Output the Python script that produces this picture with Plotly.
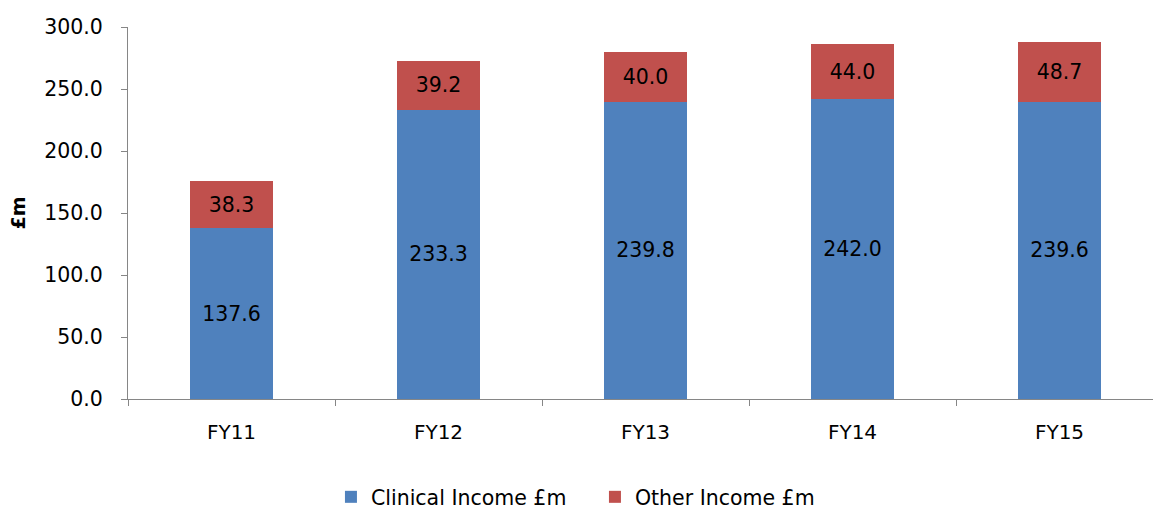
import plotly.graph_objects as go

categories = ["FY11", "FY12", "FY13", "FY14", "FY15"]
clinical = [137.6, 233.3, 239.8, 242.0, 239.6]
other = [38.3, 39.2, 40.0, 44.0, 48.7]
y_ticks = [0, 50, 100, 150, 200, 250, 300]

FONT = "DejaVu Sans"
BLUE = "#4F81BD"
RED = "#C0504D"
AXIS = "#868686"

fig = go.Figure()
fig.add_trace(go.Bar(
    x=categories, y=clinical, name="Clinical Income £m",
    marker=dict(color=BLUE, line=dict(width=0)),
    text=[f"{v:.1f}" for v in clinical], textposition="inside",
    insidetextanchor="middle", textangle=0,
    textfont=dict(family=FONT, size=20.5, color="black"),
))
fig.add_trace(go.Bar(
    x=categories, y=other, name="Other Income £m",
    marker=dict(color=RED, line=dict(width=0)),
    text=[f"{v:.1f}" for v in other], textposition="inside",
    insidetextanchor="middle", textangle=0,
    textfont=dict(family=FONT, size=20.5, color="black"),
))

fig.update_layout(
    barmode="stack",
    bargap=0.6,
    width=1153, height=509,
    margin=dict(l=128, r=0, t=27, b=110),
    paper_bgcolor="white", plot_bgcolor="white",
    font=dict(family=FONT, size=20, color="black"),
    uniformtext=dict(mode=False),
    showlegend=True,
    legend=dict(orientation="h", x=0.516, xanchor="center", xref="container",
                y=(509 - 497) / 509, yanchor="middle", yref="container",
                font=dict(family=FONT, size=20.5, color="black"),
                itemwidth=30, traceorder="normal",
                entrywidth=219, entrywidthmode="pixels"),
    xaxis=dict(
        type="category", range=[-0.5, -0.5 + 1025 / 207],
        showline=True, linecolor=AXIS, linewidth=1,
        ticks="outside", tickson="boundaries", ticklen=6, tickcolor=AXIS,
        showgrid=False, ticklabelstandoff=15,
        tickfont=dict(family=FONT, size=20, color="black"),
    ),
    yaxis=dict(
        range=[0, 300], tickvals=y_ticks, tickformat=".1f",
        showline=True, linecolor=AXIS, linewidth=1,
        ticks="outside", ticklen=6, tickcolor=AXIS,
        showgrid=False, zeroline=False,
        ticklabelstandoff=14,
        tickfont=dict(family=FONT, size=20.5, color="black"),
        title=dict(text="<b>£m</b>", font=dict(family=FONT, size=19, color="black"), standoff=13),
    ),
)

fig.write_html("out.html")
